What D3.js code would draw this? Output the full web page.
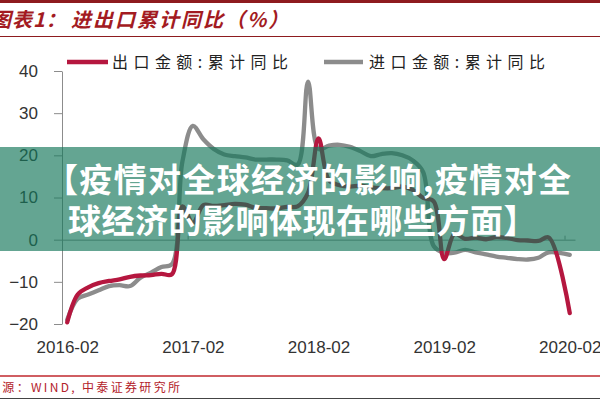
<!DOCTYPE html>
<html><head><meta charset="utf-8">
<script src="https://cdn.jsdelivr.net/npm/d3@7"></script>
<style>
html,body{margin:0;padding:0;background:#fff;}
svg{display:block;}
</style></head>
<body>
<svg id="c" width="600" height="400"></svg>
<script>
// ---- data ----
const months = [
  "2016-02","2016-03","2016-04","2016-05","2016-06","2016-07","2016-08","2016-09","2016-10","2016-11","2016-12",
  "2017-01","2017-02","2017-03","2017-04","2017-05","2017-06","2017-07","2017-08","2017-09","2017-10","2017-11","2017-12",
  "2018-01","2018-02","2018-03","2018-04","2018-05","2018-06","2018-07","2018-08","2018-09","2018-10","2018-11","2018-12",
  "2019-01","2019-02","2019-03","2019-04","2019-05","2019-06","2019-07","2019-08","2019-09","2019-10","2019-11","2019-12",
  "2020-02"
];
const exportYoY = [
  -19.6,-13.0,-11.3,-10.3,-9.8,-9.4,-8.8,-8.5,-8.4,-8.1,-8.2,
  7.9,4.0,8.2,8.0,8.2,8.5,8.3,7.5,7.5,7.4,7.8,7.9,
  11.1,24.0,14.1,12.9,12.6,12.8,12.4,12.2,12.2,12.6,11.8,9.9,
  9.1,-4.6,1.4,0.2,0.5,0.1,0.6,0.4,-0.1,-0.2,-0.3,0.5,
  -17.4
];
const importYoY = [
  -19.0,-14.0,-13.0,-12.0,-11.0,-10.8,-11.0,-9.0,-7.8,-6.5,-5.8,
  18.5,27.0,23.8,21.5,20.2,19.8,19.5,19.0,19.0,19.0,18.8,17.8,
  37.5,21.5,22.3,22.5,22.0,21.0,19.8,20.3,20.5,20.0,18.8,16.0,
  -1.5,-3.1,-3.1,-2.4,-3.0,-3.5,-4.0,-4.3,-4.6,-4.7,-4.3,-3.0,
  -3.6
];
const yTicks = [-20,-10,0,10,20,30,40];
const xTickLabels = ["2016-02","2017-02","2018-02","2019-02","2020-02"];
const seriesNames = ["出口金额:累计同比","进口金额:累计同比"];
const seriesColors = ["#b5173f","#8c8c8c"];
const titleA = "图表1：";
const titleB = "进出口累计同比（%）";
const sourceText = "来源：WIND, 中泰证券研究所";
const bannerLines = ["【疫情对全球经济的影响,疫情对全","球经济的影响体现在哪些方面】"];

// ---- helpers ----
const idx = m => { const [yy, mm] = m.split("-").map(Number); return (yy-2016)*12 + (mm-2); };

const svg = d3.select("#c");
const x = d3.scaleLinear().domain([-0.5, 48.5]).range([62, 575]);
const y = d3.scaleLinear().domain([-20, 40]).range([324, 71]);

// frame lines
svg.append("rect").attr("x",0).attr("y",0).attr("width",600).attr("height",3).attr("fill","#8e1b1f");
svg.append("line").attr("x1",0).attr("x2",600).attr("y1",36.5).attr("y2",36.5).attr("stroke","#8e1b1f").attr("stroke-width",1.2);
svg.append("line").attr("x1",0).attr("x2",600).attr("y1",376).attr("y2",376).attr("stroke","#c0282e").attr("stroke-width",1.3);
svg.append("line").attr("x1",0).attr("x2",600).attr("y1",398.5).attr("y2",398.5).attr("stroke","#444").attr("stroke-width",1);

// title
const cjk = "'Noto Sans CJK SC','Noto Sans',sans-serif";
svg.append("text").attr("x",-9).attr("y",27).text(titleA)
  .attr("font-family",cjk).attr("font-weight",700).attr("font-style","italic")
  .attr("font-size",20).attr("letter-spacing",1).attr("fill","#a31b22");
svg.append("text").attr("x",71).attr("y",27).text(titleB)
  .attr("font-family",cjk).attr("font-weight",700).attr("font-style","italic")
  .attr("font-size",20).attr("letter-spacing",2).attr("fill","#a31b22");

// source
svg.append("text").attr("x",-12).attr("y",392).text(sourceText)
  .attr("font-family",cjk).attr("font-size",12).attr("fill","#b3222a")
  .attr("textLength",192).attr("lengthAdjust","spacing");

// y axis
const yAxis = svg.append("g").attr("transform",`translate(${x(-0.5)},0)`)
  .call(d3.axisLeft(y).tickValues(yTicks).tickSize(8).tickSizeOuter(0).tickPadding(16));
yAxis.selectAll("path,line").attr("stroke","#8c8c8c");
yAxis.selectAll("text").attr("font-family","'Liberation Sans',Arial,sans-serif").attr("font-size",17).attr("fill","#333");

// zero axis with ticks
const xIdx = xTickLabels.map(idx);
const zAxis = svg.append("g").attr("transform",`translate(0,${y(0)})`)
  .call(d3.axisTop(x).tickValues(xIdx.map(i=>i-0.5)).tickSize(4).tickSizeOuter(0).tickFormat(""));
zAxis.selectAll("path,line").attr("stroke","#8c8c8c");

// x labels
const xl = svg.append("g").attr("transform",`translate(0,337)`)
  .call(d3.axisBottom(x).tickValues(xIdx).tickSize(0).tickPadding(4).tickFormat((d,i)=>xTickLabels[i]));
xl.select(".domain").remove();
xl.selectAll("text").attr("font-family","'Liberation Sans',Arial,sans-serif").attr("font-size",17).attr("fill","#333");

// lines
const line = d3.line().x(d=>x(d.i)).y(d=>y(d.v)).curve(d3.curveCatmullRom.alpha(0.5));
const mk = arr => months.map((m,k)=>({i:idx(m), v:arr[k]}));
[[importYoY,1],[exportYoY,0]].forEach(([arr,s])=>{
  svg.append("path").datum(mk(arr)).attr("d",line)
    .attr("fill","none").attr("stroke",seriesColors[s]).attr("stroke-width",4.3)
    .attr("stroke-linejoin","round").attr("stroke-linecap","round");
});

// legend
const lg = [{x1:67,x2:108,tx:112},{x1:324,x2:363,tx:369}];
lg.forEach((p,s)=>{
  svg.append("line").attr("x1",p.x1).attr("x2",p.x2).attr("y1",62).attr("y2",62)
    .attr("stroke",seriesColors[s]).attr("stroke-width",4.5);
  svg.append("text").attr("x",p.tx).attr("y",68).text(seriesNames[s])
    .attr("font-family",cjk).attr("font-size",16).attr("fill","#222")
    .attr("textLength",176).attr("lengthAdjust","spacing");
});

// banner overlay
svg.append("rect").attr("x",0).attr("y",147).attr("width",600).attr("height",104)
  .attr("fill","#13775a").attr("fill-opacity",0.66);
svg.append("text").attr("x",45).attr("y",192).text(bannerLines[0])
  .attr("font-family",cjk).attr("font-weight",700).attr("font-size",33).attr("fill","#fff")
  .attr("textLength",526).attr("lengthAdjust","spacing");
svg.append("text").attr("x",68).attr("y",233).text(bannerLines[1])
  .attr("font-family",cjk).attr("font-weight",700).attr("font-size",33).attr("fill","#fff")
  .attr("letter-spacing",0.5);
</script>
</body></html>
